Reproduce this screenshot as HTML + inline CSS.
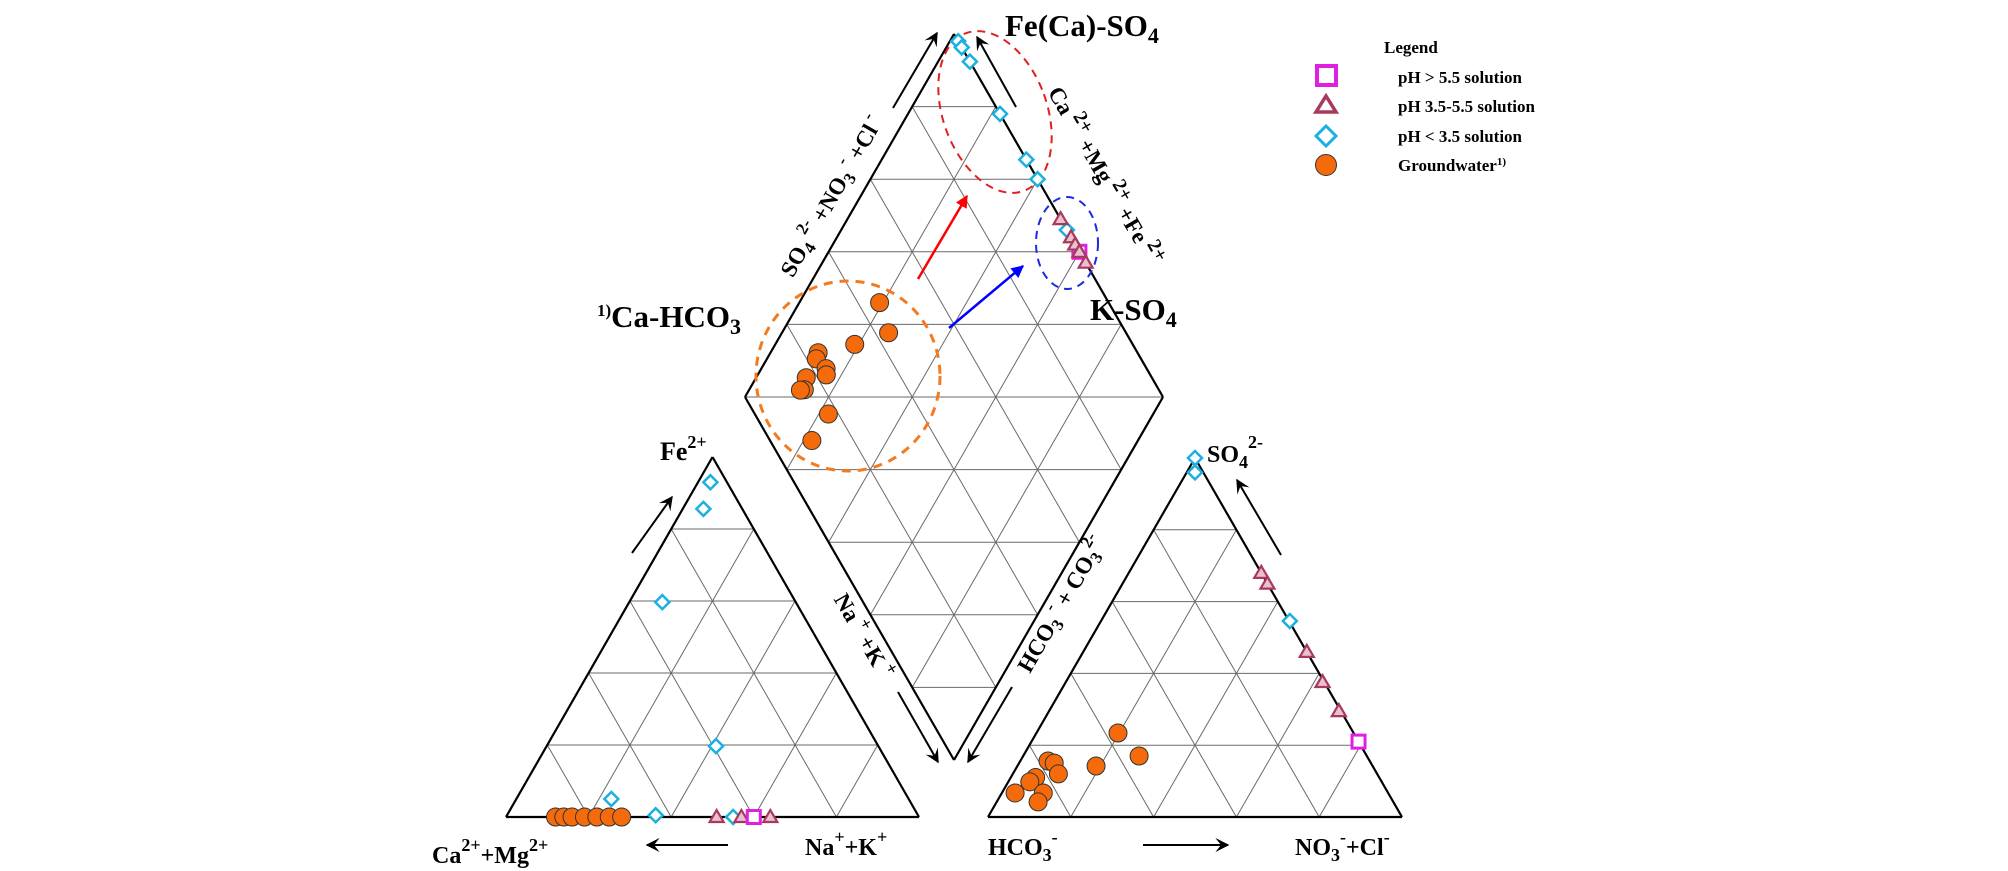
<!DOCTYPE html>
<html><head><meta charset="utf-8"><style>
html,body{margin:0;padding:0;background:#fff;}
svg{display:block;font-family:"Liberation Serif",serif;font-weight:bold;}
</style></head><body>
<svg id="chart" width="2008" height="871" viewBox="0 0 2008 871" xmlns="http://www.w3.org/2000/svg">
<defs>
<marker id="ah" viewBox="0 0 10 10" refX="9" refY="5" markerWidth="7" markerHeight="7" orient="auto"><path d="M0,0 L10,5 L0,10 L4,5 z" fill="#000"/></marker>
<marker id="ahr" viewBox="0 0 10 10" refX="9" refY="5" markerWidth="5" markerHeight="5" orient="auto"><path d="M0,0 L10,5 L0,10 z" fill="#f00"/></marker>
<marker id="ahb" viewBox="0 0 10 10" refX="9" refY="5" markerWidth="5" markerHeight="5" orient="auto"><path d="M0,0 L10,5 L0,10 z" fill="#00f"/></marker>
</defs>
<g id="grid"></g>
<g id="annot">
<ellipse cx="848" cy="376" rx="92" ry="95" fill="none" stroke="#f47a20" stroke-width="3" stroke-dasharray="9,7"/>
<ellipse cx="995" cy="112" rx="52" ry="84" transform="rotate(-20 995 112)" fill="none" stroke="#e02020" stroke-width="2" stroke-dasharray="8,6"/>
<ellipse cx="1067" cy="243" rx="31" ry="46" fill="none" stroke="#1a2ae0" stroke-width="2" stroke-dasharray="8,6"/>
<line x1="918" y1="279" x2="967" y2="196" stroke="#f00" stroke-width="2.5" marker-end="url(#ahr)"/>
<line x1="949" y1="328" x2="1023" y2="266" stroke="#00f" stroke-width="2.5" marker-end="url(#ahb)"/>
</g>
<g id="points"></g>
<g id="labels" fill="#000">
<text x="1005" y="36" font-size="31">Fe(Ca)-SO<tspan font-size="22" dy="7">4</tspan></text>
<text x="1090" y="320" font-size="31">K-SO<tspan font-size="22" dy="7">4</tspan></text>
<text x="597" y="327" font-size="31"><tspan font-size="17" dy="-11">1)</tspan><tspan dy="11">Ca-HCO</tspan><tspan font-size="22" dy="7">3</tspan></text>
<text font-size="23" transform="translate(838,200) rotate(-60)" text-anchor="middle">SO<tspan font-size="17" dy="5">4</tspan><tspan font-size="17" dy="-16"> 2-</tspan><tspan dy="11"> +NO</tspan><tspan font-size="17" dy="5">3</tspan><tspan font-size="17" dy="-16"> -</tspan><tspan dy="11"> +Cl</tspan><tspan font-size="17" dy="-11"> -</tspan></text>
<text font-size="23" transform="translate(1098,180) rotate(60)" text-anchor="middle">Ca<tspan font-size="20" dy="-10"> 2+</tspan><tspan dy="10"> +Mg</tspan><tspan font-size="20" dy="-10"> 2+</tspan><tspan dy="10"> +Fe</tspan><tspan font-size="20" dy="-10"> 2+</tspan></text>
<text font-size="23" transform="translate(857,640) rotate(60)" text-anchor="middle">Na<tspan font-size="18" dy="-10"> +</tspan><tspan dy="10"> +K</tspan><tspan font-size="18" dy="-10"> +</tspan></text>
<text font-size="23" transform="translate(1068,608) rotate(-60)" text-anchor="middle">HCO<tspan font-size="17" dy="5">3</tspan><tspan font-size="17" dy="-16"> -</tspan><tspan dy="11"> + CO</tspan><tspan font-size="17" dy="5">3</tspan><tspan font-size="17" dy="-16">2-</tspan></text>
<text x="660" y="460" font-size="26">Fe<tspan font-size="18" dy="-12">2+</tspan></text>
<text x="432" y="863" font-size="24">Ca<tspan font-size="18" dy="-12">2+</tspan><tspan dy="12">+Mg</tspan><tspan font-size="18" dy="-12">2+</tspan></text>
<text x="805" y="855" font-size="24">Na<tspan font-size="18" dy="-12">+</tspan><tspan dy="12">+K</tspan><tspan font-size="18" dy="-12">+</tspan></text>
<text x="988" y="855" font-size="24">HCO<tspan font-size="18" dy="6">3</tspan><tspan font-size="18" dy="-18">-</tspan></text>
<text x="1295" y="855" font-size="24">NO<tspan font-size="18" dy="6">3</tspan><tspan font-size="18" dy="-18">-</tspan><tspan dy="12">+Cl</tspan><tspan font-size="18" dy="-12">-</tspan></text>
<text x="1207" y="462" font-size="24">SO<tspan font-size="18" dy="6">4</tspan><tspan font-size="18" dy="-20">2-</tspan></text>
</g>
<g id="arrows" stroke="#000" stroke-width="2" fill="none">
<line x1="893" y1="108" x2="937" y2="33" marker-end="url(#ah)"/>
<line x1="1016" y1="107" x2="977" y2="37" marker-end="url(#ah)"/>
<line x1="898" y1="692" x2="938" y2="762" marker-end="url(#ah)"/>
<line x1="1012" y1="687" x2="968" y2="762" marker-end="url(#ah)"/>
<line x1="632" y1="553" x2="672" y2="497" marker-end="url(#ah)"/>
<line x1="728" y1="845" x2="647" y2="845" marker-end="url(#ah)"/>
<line x1="1143" y1="845" x2="1228" y2="845" marker-end="url(#ah)"/>
<line x1="1281" y1="555" x2="1237" y2="480" marker-end="url(#ah)"/>
</g>
<g id="legend">
<text x="1384" y="53" font-size="17">Legend</text>
<rect x="1317" y="66" width="19" height="19" fill="#fff" stroke="#e020e0" stroke-width="4"/>
<text x="1398" y="83" font-size="17">pH &gt; 5.5 solution</text>
<polygon points="1326,96 1336,112 1316,112" fill="#fff" stroke="#a8385c" stroke-width="3.5"/>
<text x="1398" y="112" font-size="17">pH 3.5-5.5 solution</text>
<polygon points="1326,126 1336,136 1326,146 1316,136" fill="#fff" stroke="#1ab0e0" stroke-width="3"/>
<text x="1398" y="142" font-size="17">pH &lt; 3.5 solution</text>
<circle cx="1326" cy="165" r="10.5" fill="#f56a0a" stroke="#333" stroke-width="1"/>
<text x="1398" y="171" font-size="17">Groundwater<tspan font-size="11" dy="-6">1)</tspan></text>
</g>
</svg>
<script>
// ---- data (fractions) ----
// Cation triangle: fe = Fe2+ fraction, nak = Na+K fraction
const catHighFe = [], catHighNa = [];
const catHighPhNaK = [0.60];
const catHighPhFe = [0.0];
const catMidPhNaK = [0.51, 0.57, 0.64];
const catMidPhFe = [0.0, 0.0, 0.0];
const catLowPhNaK = [0.03, 0.05, 0.08, 0.41, 0.23, 0.36, 0.55];
const catLowPhFe = [0.93, 0.856, 0.597, 0.197, 0.05, 0.005, 0.0];
const catGwNaK = [0.12, 0.14, 0.16, 0.19, 0.22, 0.25, 0.28];
const catGwFe = [0, 0, 0, 0, 0, 0, 0];
// Anion triangle: so4 = SO4 fraction, nocl = NO3+Cl fraction
const anHighPhNoCl = [0.79];
const anHighPhSo4 = [0.21];
const anMidPhNoCl = [0.32, 0.35, 0.54, 0.62, 0.70];
const anMidPhSo4 = [0.68, 0.65, 0.46, 0.376, 0.295];
const anLowPhNoCl = [0.0, 0.02, 0.456];
const anLowPhSo4 = [1.0, 0.96, 0.546];
const anGwNoCl = [0.197, 0.28, 0.19, 0.067, 0.085, 0.11, 0.06, 0.052, 0.032, 0.10, 0.10];
const anGwSo4 = [0.234, 0.17, 0.142, 0.156, 0.15, 0.12, 0.11, 0.098, 0.067, 0.067, 0.042];
// Diamond: an = SO4+NO3+Cl fraction, cat = Ca+Mg+Fe fraction
const dHighPhAn = [1.0];
const dHighPhCat = [0.40];
const dMidPhAn = [1.0, 1.0, 1.0, 1.0, 1.0];
const dMidPhCat = [0.49, 0.44, 0.42, 0.40, 0.37];
const dLowPhAn = [1.0, 1.0, 1.0, 1.0, 1.0, 1.0, 1.0];
const dLowPhCat = [0.98, 0.963, 0.924, 0.78, 0.654, 0.60, 0.46];
const dGwAn = [0.452, 0.432, 0.335, 0.236, 0.223, 0.233, 0.225, 0.173, 0.152, 0.142, 0.176, 0.10];
const dGwCat = [0.808, 0.745, 0.81, 0.886, 0.882, 0.845, 0.836, 0.88, 0.868, 0.877, 0.777, 0.78];

// ---- geometry ----
const NS = "http://www.w3.org/2000/svg";
const LT = {bl:[506,817], br:[919,817], ap:[712.5,457]};
const RT = {bl:[988,817], br:[1402,817], ap:[1195,458]};
const DM = {b:[954,760], r:[1163,397], l:[745,397], t:[954,34]};
function triXY(t, a, b){ // a along base, b toward apex
  return [t.bl[0] + a*(t.br[0]-t.bl[0]) + b*(t.ap[0]-t.bl[0]), t.bl[1] + a*(t.br[1]-t.bl[1]) + b*(t.ap[1]-t.bl[1])];
}
function dmXY(u, v){
  return [DM.b[0] + u*(DM.r[0]-DM.b[0]) + v*(DM.l[0]-DM.b[0]), DM.b[1] + u*(DM.r[1]-DM.b[1]) + v*(DM.l[1]-DM.b[1])];
}
const grid = document.getElementById('grid');
function line(p,q,cls,stroke,w){
  const l = document.createElementNS(NS,'line');
  l.setAttribute('x1',p[0]);l.setAttribute('y1',p[1]);l.setAttribute('x2',q[0]);l.setAttribute('y2',q[1]);
  l.setAttribute('stroke',stroke);l.setAttribute('stroke-width',w);
  
  
  grid.appendChild(l);
}
const GC = '#6a6a6a';
[LT,RT].forEach((t,ti)=>{
  const nm = ti===0 ? 'cation-grid-line' : 'anion-grid-line';
  for(let i=1;i<5;i++){
    const f=i/5;
    line(triXY(t,0,f),triXY(t,1-f,f),nm,GC,1);
    line(triXY(t,f,0),triXY(t,f,1-f),nm,GC,1);
    line(triXY(t,f,0),triXY(t,0,f),nm,GC,1);
  }
  const on = ti===0 ? 'cation-triangle-outline' : 'anion-triangle-outline';
  line(t.bl,t.br,on,'#000',2.2);line(t.br,t.ap,on,'#000',2.2);line(t.ap,t.bl,on,'#000',2.2);
});
for(let i=1;i<5;i++){
  const f=i/5;
  line(dmXY(f,0),dmXY(f,1),'diamond-grid-line',GC,1);
  line(dmXY(0,f),dmXY(1,f),'diamond-grid-line',GC,1);
}
for(let i=1;i<10;i++){ // horizontal lines
  const s=i/5; // u+v = s
  const u0 = Math.max(0,s-1), u1 = Math.min(1,s);
  line(dmXY(u0,s-u0),dmXY(u1,s-u1),'diamond-grid-line',GC,1);
}
line(DM.b,DM.r,'diamond-outline','#000',2.2);line(DM.r,DM.t,'diamond-outline','#000',2.2);
line(DM.t,DM.l,'diamond-outline','#000',2.2);line(DM.l,DM.b,'diamond-outline','#000',2.2);

// ---- markers ----
const pts = document.getElementById('points');
function mk(kind, p, name){
  let el;
  const [x,y]=p;
  if(kind==='gw'){
    el=document.createElementNS(NS,'circle');
    el.setAttribute('cx',x);el.setAttribute('cy',y);el.setAttribute('r',9);
    el.setAttribute('fill','#f56a0a');el.setAttribute('stroke','#333');el.setAttribute('stroke-width',1);
  } else if(kind==='low'){
    el=document.createElementNS(NS,'polygon');
    el.setAttribute('points',`${x},${y-7} ${x+7},${y} ${x},${y+7} ${x-7},${y}`);
    el.setAttribute('fill','#fff');el.setAttribute('stroke','#1ab0e0');el.setAttribute('stroke-width',2.5);
  } else if(kind==='mid'){
    el=document.createElementNS(NS,'polygon');
    el.setAttribute('points',`${x},${y-7} ${x+7},${y+5} ${x-7},${y+5}`);
    el.setAttribute('fill','#e8c0d0');el.setAttribute('stroke','#a8385c');el.setAttribute('stroke-width',2.2);
  } else {
    el=document.createElementNS(NS,'rect');
    el.setAttribute('x',x-6.5);el.setAttribute('y',y-6.5);el.setAttribute('width',13);el.setAttribute('height',13);
    el.setAttribute('fill','#fff');el.setAttribute('stroke','#e020e0');el.setAttribute('stroke-width',3);
  }
  
  
  pts.appendChild(el);
}
catGwNaK.forEach((v,i)=>mk('gw',triXY(LT,v,catGwFe[i]),'cation-point-groundwater'));
catLowPhNaK.forEach((v,i)=>mk('low',triXY(LT,v,catLowPhFe[i]),'cation-point-ph-low'));
catMidPhNaK.forEach((v,i)=>mk('mid',triXY(LT,v,catMidPhFe[i]),'cation-point-ph-mid'));
catHighPhNaK.forEach((v,i)=>mk('high',triXY(LT,v,catHighPhFe[i]),'cation-point-ph-high'));
anGwNoCl.forEach((v,i)=>mk('gw',triXY(RT,v,anGwSo4[i]),'anion-point-groundwater'));
anLowPhNoCl.forEach((v,i)=>mk('low',triXY(RT,v,anLowPhSo4[i]),'anion-point-ph-low'));
anMidPhNoCl.forEach((v,i)=>mk('mid',triXY(RT,v,anMidPhSo4[i]),'anion-point-ph-mid'));
anHighPhNoCl.forEach((v,i)=>mk('high',triXY(RT,v,anHighPhSo4[i]),'anion-point-ph-high'));
dGwAn.forEach((v,i)=>mk('gw',dmXY(v,dGwCat[i]),'diamond-point-groundwater'));
dLowPhAn.forEach((v,i)=>mk('low',dmXY(v,dLowPhCat[i]),'diamond-point-ph-low'));
dHighPhAn.forEach((v,i)=>mk('high',dmXY(v,dHighPhCat[i]),'diamond-point-ph-high'));
dMidPhAn.forEach((v,i)=>mk('mid',dmXY(v,dMidPhCat[i]),'diamond-point-ph-mid'));
</script>
</body></html>
